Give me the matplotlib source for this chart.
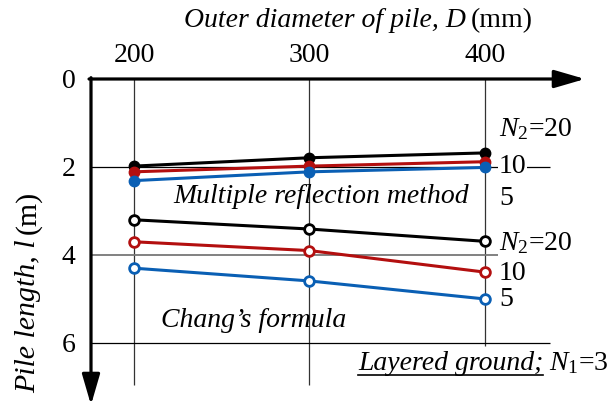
import matplotlib

matplotlib.use("Agg")
import matplotlib.pyplot as plt
from matplotlib.transforms import IdentityTransform

plt.rcParams["font.family"] = ["Liberation Serif", "DejaVu Serif"]
plt.rcParams["mathtext.fontset"] = "custom"
plt.rcParams["mathtext.rm"] = "Liberation Serif"
plt.rcParams["mathtext.it"] = "Liberation Serif:italic"

diameters = [200, 300, 400]

# multiple reflection method (filled markers)
mrm_n20 = [1.98, 1.79, 1.68]
mrm_n10 = [2.11, 1.98, 1.88]
mrm_n5 = [2.31, 2.11, 2.01]

# Chang's formula (open markers)
chang_n20 = [3.20, 3.41, 3.69]
chang_n10 = [3.70, 3.90, 4.39]
chang_n5 = [4.30, 4.59, 5.00]

colors = {"20": "black", "10": "#b30f0f", "5": "#0a5fb4"}

x_ticks = [200, 300, 400]
y_ticks = [0, 2, 4, 6]

# curve labels: (x, y, text)
upper_labels = [(408, 1.15, r"$N_{\mathrm{2}}$=20"), (408, 2.0, "10"), (408, 2.72, "5")]
lower_labels = [(408, 3.73, r"$N_{\mathrm{2}}$=20"), (408, 4.42, "10"), (408, 5.02, "5")]

FS = 20
W, H = 616, 407


def rich_text(fig, pieces, centre, base, vertical=False, size=FS):
    """Draw (text, style) pieces one after another. centre is the middle of
    the run and base the baseline, both in pixels from the top-left."""
    renderer = fig.canvas.get_renderer()
    arts = []
    for txt, style in pieces:
        a = fig.text(0, 0, txt, style=style, fontsize=size, ha="left", va="baseline",
                     rotation_mode="anchor", transform=IdentityTransform())
        arts.append((a, a.get_window_extent(renderer).width))
    gap = 0.25 * size
    total = sum(w for _, w in arts) + gap * (len(arts) - 1)
    if vertical:
        pos = H - (centre + total / 2)  # runs bottom to top
    else:
        pos = centre - total / 2
    for a, w in arts:
        if vertical:
            a.set_rotation(90)
            a.set_position((base, pos))
        else:
            a.set_position((pos, H - base))
        pos += w + gap


fig = plt.figure(figsize=(W / 100, H / 100), dpi=100)
ax = fig.add_axes([91 / W, 2 / H, 494 / W, 326 / H])
ax.set_xlim(175.5, 457)
ax.set_ylim(7.41, 0)
for s in ax.spines.values():
    s.set_visible(False)

# grid
ax.vlines(x_ticks[:2], 0, 6.95, color="#333333", lw=0.9, zorder=1)
ax.vlines(x_ticks[2], 0, 6.07, color="#333333", lw=0.9, zorder=1)
ax.hlines([2, 6], 175.5, 437, color="black", lw=0.9, zorder=1)
ax.hlines(4, 175.5, 437, color="#777777", lw=1.3, zorder=1)

# axes with arrows
arrow = dict(arrowstyle="-|>,head_length=1.1,head_width=0.32", color="black",
             lw=2.3, shrinkA=0, shrinkB=0, mutation_scale=17)
ax.annotate("", xy=(1, 1), xytext=(-0.004, 1), xycoords="axes fraction", arrowprops=arrow)
ax.annotate("", xy=(0, 0), xytext=(0, 1.004), xycoords="axes fraction", arrowprops=arrow)

for ys, key in [(mrm_n20, "20"), (mrm_n10, "10"), (mrm_n5, "5")]:
    ax.plot(diameters, ys, color=colors[key], lw=2.2, marker="o", ms=7.5, zorder=3)
for ys, key in [(chang_n20, "20"), (chang_n10, "10"), (chang_n5, "5")]:
    ax.plot(diameters, ys, color=colors[key], lw=2.2, marker="o", ms=7,
            mfc="white", mew=2, zorder=3)

ax.xaxis.tick_top()
ax.set_xticks(x_ticks)
ax.set_yticks(y_ticks)
ax.tick_params(axis="both", length=0, labelsize=FS)
ax.tick_params(axis="x", pad=8)
ax.tick_params(axis="y", pad=11)

# axis titles, italic part + upright unit
rich_text(fig, [("Outer diameter of pile, D", "italic"), ("(mm)", "normal")], 358, 27)
rich_text(fig, [("Pile length, l", "italic"), ("(m)", "normal")], 292, 35,
          vertical=True, size=21.5)

for x, y, t in upper_labels + lower_labels:
    ax.text(x, y, t, fontsize=FS, ha="left", va="center", zorder=4,
            bbox=dict(facecolor="white", edgecolor="none", pad=0.5))

ax.text(306.5, 2.68, "Multiple reflection method", style="italic", fontsize=FS,
        ha="center", va="center")
ax.text(268, 5.48, "Chang\u2019s formula", style="italic", fontsize=FS,
        ha="center", va="center")

# "Layered ground;" underlined, then N1=3
t1 = ax.text(327.6, 6.62, "Layered ground;", style="italic", fontsize=FS,
             ha="left", va="baseline")
fig.canvas.draw()
bb = t1.get_window_extent()
inv = ax.transData.inverted()
x_start = inv.transform((bb.x0, 0))[0]
x_end = inv.transform((bb.x1, 0))[0]
ax.text(x_end + 3, 6.62, r"$N_{\mathrm{1}}$=3", fontsize=FS, ha="left", va="baseline")
ax.plot([x_start, x_end], [6.72, 6.72], color="black", lw=1.2, clip_on=False)

fig.savefig("out.png", dpi=100)
